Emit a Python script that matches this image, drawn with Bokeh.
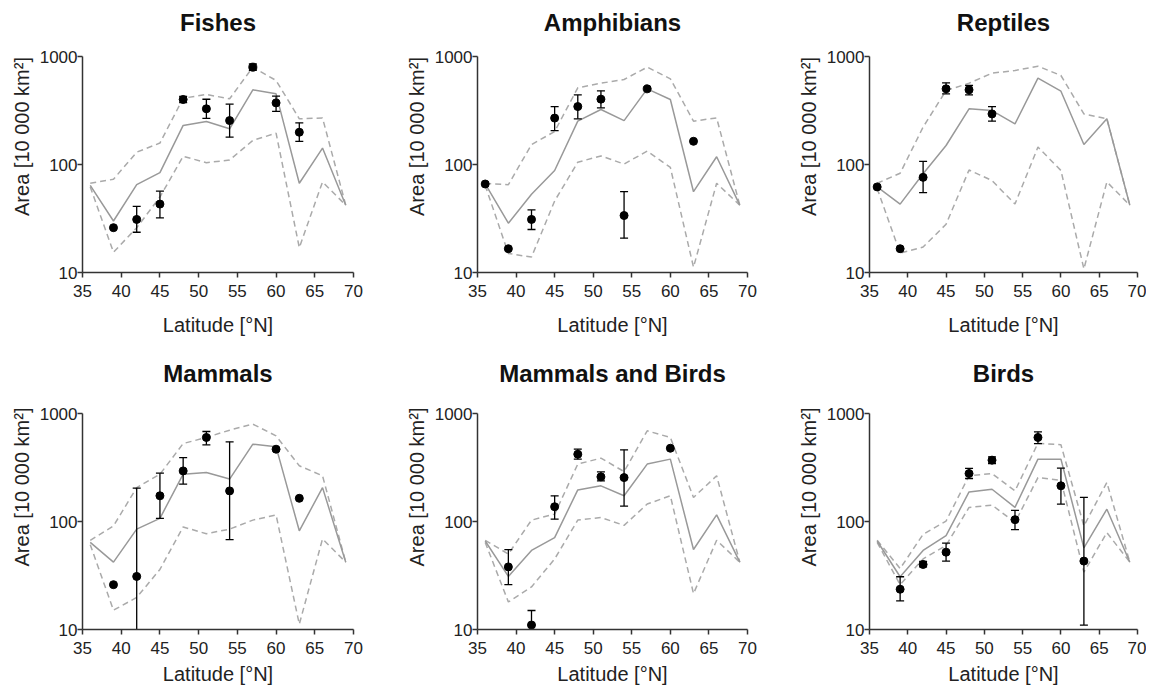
from bokeh.plotting import figure
from bokeh.layouts import column, row
from bokeh.models import Range1d, FixedTicker, NumeralTickFormatter, Label
from bokeh.embed import file_html
from bokeh.resources import INLINE

# ---------------- data ----------------
LAT = [36, 39, 42, 45, 48, 51, 54, 57, 60, 63, 66, 69]
X_TICKS = [35, 40, 45, 50, 55, 60, 65, 70]
Y_TICKS = [10, 100, 1000]

TITLES = ["Fishes", "Amphibians", "Reptiles", "Mammals", "Mammals and Birds", "Birds"]

fish_mid = [64, 30, 65, 84, 230, 250, 214, 491, 451, 67, 142, 42]
fish_up = [67, 73, 130, 158, 411, 445, 406, 797, 600, 265, 270, 42]
fish_lo = [62, 15.4, 26, 50, 119, 104, 110, 167, 195, 17, 69, 42]
fish_plat = [39, 42, 45, 48, 51, 54, 57, 60, 63]
fish_pval = [26, 31, 43, 400, 328, 255, 797, 372, 199]
fish_phi = [None, 41, 56.6, 428, 402, 362, 852, 429, 243]
fish_plo = [None, 23.6, 32, 374, 267, 179, 745, 310, 164]

amph_mid = [66, 28.6, 53, 88, 252, 323, 255, 502, 400, 56, 118, 42]
amph_up = [67, 65, 153, 202, 513, 566, 612, 797, 621, 252, 270, 42]
amph_lo = [64, 15, 13.9, 46, 105, 120, 101, 133, 94, 11.2, 67, 42]
amph_plat = [36, 39, 42, 45, 48, 51, 54, 57, 63]
amph_pval = [66, 16.6, 31, 269, 344, 403, 33.7, 502, 164]
amph_phi = [None, None, 38, 344, 441, 481, 56, None, None]
amph_plo = [None, None, 25, 206, 265, 335, 20.8, None, None]

rept_mid = [62, 43, 82, 150, 328, 316, 238, 630, 477, 153, 265, 42]
rept_up = [67, 83, 222, 484, 566, 701, 742, 814, 667, 294, 265, 42]
rept_lo = [60, 15.1, 17.2, 28, 89, 71, 43, 145, 88, 10.8, 69, 42]
rept_plat = [36, 39, 42, 45, 48, 51]
rept_pval = [62, 16.6, 76, 502, 491, 294]
rept_phi = [None, None, 107, 570, 539, 344]
rept_plo = [None, None, 55, 451, 441, 252]

mamm_mid = [64, 42, 85, 107, 274, 284, 247, 520, 491, 82, 206, 42]
mamm_up = [67, 91, 206, 274, 527, 600, 701, 797, 621, 328, 265, 42]
mamm_lo = [61, 15.1, 19.8, 36, 89, 77, 85, 103, 115, 11.2, 69, 42]
mamm_plat = [39, 42, 45, 48, 51, 54, 60, 63]
mamm_pval = [26, 31, 173, 294, 600, 192, 467, 164]
mamm_phi = [None, 204, 280, 391, 681, 547, None, None]
mamm_plo = [None, 5, 107, 222, 513, 68, None, None]

mb_mid = [66, 31, 54, 71, 196, 214, 173, 340, 378, 55, 115, 42]
mb_up = [67, 50, 103, 117, 340, 386, 290, 691, 600, 167, 265, 42]
mb_lo = [64, 18, 24.8, 45, 103, 109, 92, 145, 173, 21.5, 67, 42]
mb_plat = [39, 42, 45, 48, 51, 54, 60]
mb_pval = [38, 11, 137, 420, 259, 255, 477]
mb_phi = [55, 15, 173, 467, 288, 461, None]
mb_plo = [26, 9, 105, 378, 238, 139, None]

bird_mid = [66, 30.8, 54, 74, 188, 199, 135, 378, 378, 57, 130, 42]
bird_up = [67, 36.7, 76, 101, 265, 278, 192, 531, 513, 91, 230, 42]
bird_lo = [64, 26, 45, 60, 135, 142, 98, 255, 241, 34, 79, 42]
bird_plat = [39, 42, 45, 48, 51, 54, 57, 60, 63]
bird_pval = [23.6, 40, 52, 278, 370, 104, 600, 214, 43]
bird_phi = [30.8, 42.6, 63, 310, 397, 127, 676, 312, 167]
bird_plo = [18.4, 38, 43, 250, 344, 84, 527, 145, 11]

PANELS = [
    (fish_mid, fish_up, fish_lo, fish_plat, fish_pval, fish_phi, fish_plo),
    (amph_mid, amph_up, amph_lo, amph_plat, amph_pval, amph_phi, amph_plo),
    (rept_mid, rept_up, rept_lo, rept_plat, rept_pval, rept_phi, rept_plo),
    (mamm_mid, mamm_up, mamm_lo, mamm_plat, mamm_pval, mamm_phi, mamm_plo),
    (mb_mid, mb_up, mb_lo, mb_plat, mb_pval, mb_phi, mb_plo),
    (bird_mid, bird_up, bird_lo, bird_plat, bird_pval, bird_phi, bird_plo),
]

# ---------------- layout ----------------
FONT = "Liberation Sans"
AXIS_H = 216                       # height of the 10..1000 axis, px
COLS = [(82, 271, 39), (85, 270, 31), (91, 268, 9)]   # left border, frame width, right border
# headroom above the axis (title area), bottom border, xlabel standoff, title baseline gap
ROWS = [(56, 72, 14, 34), (69, 61, 6, 40)]
AXIS_COLOR = "#333333"


def make_panel(i, data):
    mid, up, lo, plat, pval, phi, plo = data
    left, fw, right = COLS[i % 3]
    head, bottom, xstand, tgap = ROWS[i // 3]
    frame_h = AXIS_H + head
    y_top = 10 ** (1 + 2 * frame_h / AXIS_H)   # extend range so the title fits in the frame
    p = figure(y_axis_type="log",
               x_range=Range1d(35, 70), y_range=Range1d(10, y_top),
               frame_width=fw, frame_height=frame_h,
               min_border_left=left, min_border_right=right,
               min_border_top=0, min_border_bottom=bottom,
               output_backend="svg", toolbar_location=None)
    p.outline_line_color = None
    p.background_fill_color = "white"
    p.border_fill_color = "white"
    p.xgrid.visible = False
    p.ygrid.visible = False

    title = Label(x=fw / 2, y=AXIS_H + tgap, x_units="screen", y_units="screen",
                  text=TITLES[i], text_align="center", text_baseline="alphabetic",
                  text_font=FONT, text_font_size="24px", text_font_style="bold",
                  text_color="#111111")
    p.add_layout(title)

    p.xaxis.ticker = FixedTicker(ticks=X_TICKS)
    p.yaxis.ticker = FixedTicker(ticks=Y_TICKS)
    p.yaxis.bounds = (10, 1000)
    p.yaxis.formatter = NumeralTickFormatter(format="0")
    p.xaxis.axis_label = "Latitude [°N]"
    p.yaxis.axis_label = "Area [10 000 km²]"
    for ax in (p.xaxis, p.yaxis):
        ax.axis_line_color = AXIS_COLOR
        ax.axis_line_width = 1.5
        ax.major_tick_line_color = AXIS_COLOR
        ax.major_tick_line_width = 1.5
        ax.major_tick_out = 5
        ax.major_tick_in = 0
        ax.minor_tick_line_color = None
        ax.major_label_text_font = FONT
        ax.major_label_text_font_size = "17px"
        ax.major_label_text_color = "#222222"
        ax.axis_label_text_font = FONT
        ax.axis_label_text_font_size = "20px"
        ax.axis_label_text_font_style = "normal"
        ax.axis_label_text_color = "#222222"
    p.xaxis.major_label_standoff = 7
    p.xaxis.axis_label_standoff = xstand
    p.yaxis.major_label_standoff = 0
    p.yaxis.axis_label_standoff = 4

    p.line(LAT, up, line_color="#aaaaaa", line_width=1.5, line_dash="6 4")
    p.line(LAT, lo, line_color="#aaaaaa", line_width=1.5, line_dash="6 4")
    p.line(LAT, mid, line_color="#999999", line_width=1.5)

    ex = [x for x, h in zip(plat, phi) if h is not None]
    eh = [h for h in phi if h is not None]
    el = [l for l in plo if l is not None]
    if ex:
        p.segment(x0=ex, y0=el, x1=ex, y1=eh, line_color="black", line_width=1.3)
        p.scatter(ex, eh, marker="dash", size=8, line_color="black", line_width=1.3)
        p.scatter(ex, el, marker="dash", size=8, line_color="black", line_width=1.3)
    p.scatter(plat, pval, size=8, fill_color="black", line_color="black")
    return p


figs = [make_panel(i, d) for i, d in enumerate(PANELS)]
layout = column(row(*figs[:3], spacing=0), row(*figs[3:], spacing=0), spacing=0)

open("out.html", "w").write(file_html(layout, INLINE))
